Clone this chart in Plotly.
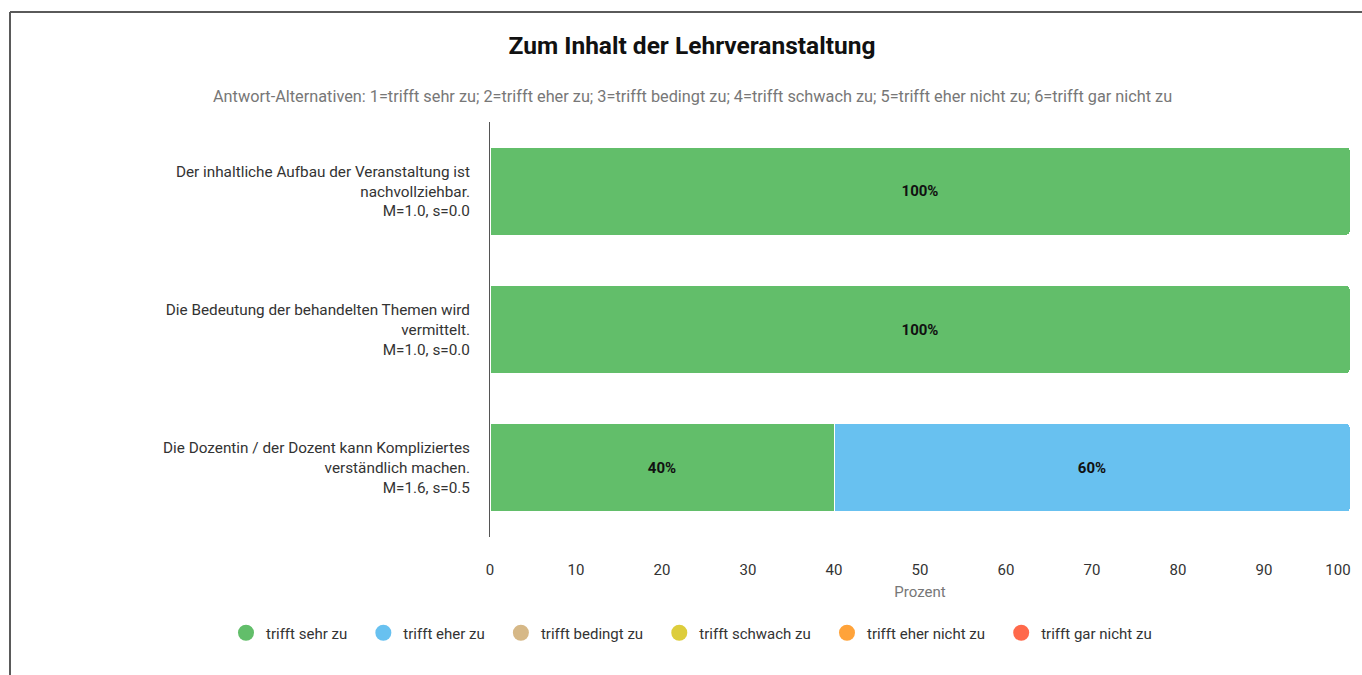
import plotly.graph_objects as go

# Survey items (top to bottom) with mean / standard deviation
questions = [
    "Der inhaltliche Aufbau der Veranstaltung ist<br>nachvollziehbar.<br>M=1.0, s=0.0",
    "Die Bedeutung der behandelten Themen wird<br>vermittelt.<br>M=1.0, s=0.0",
    "Die Dozentin / der Dozent kann Kompliziertes<br>verständlich machen.<br>M=1.6, s=0.5",
]

# Answer categories and their share (percent) per item
categories = [
    "trifft sehr zu",
    "trifft eher zu",
    "trifft bedingt zu",
    "trifft schwach zu",
    "trifft eher nicht zu",
    "trifft gar nicht zu",
]
values_sehr = [100, 100, 40]
values_eher = [0, 0, 60]
values_bedingt = [0, 0, 0]
values_schwach = [0, 0, 0]
values_eher_nicht = [0, 0, 0]
values_gar_nicht = [0, 0, 0]
series = [values_sehr, values_eher, values_bedingt,
          values_schwach, values_eher_nicht, values_gar_nicht]

colors = ["#62be6a", "#68c1f0", "#d6b887", "#ddcd3c", "#ffa33a", "#ff694b"]

x_ticks = [0, 10, 20, 30, 40, 50, 60, 70, 80, 90]
x_end_tick = [100]

W, H = 1362, 675
ML, MR, MT, MB = 490, 12, 122, 138
PW, PH = W - ML - MR, H - MT - MB

fig = go.Figure()

for name, vals, col in zip(categories, series, colors):
    if not any(vals):
        continue
    fig.add_trace(go.Bar(
        y=questions, x=vals, orientation="h", name=name,
        marker=dict(color=col, line=dict(color="white", width=1)),
        text=[f"{v}%" if v else "" for v in vals],
        textposition="inside", insidetextanchor="middle",
        textfont=dict(family="Roboto", size=15, color="#111", weight="bold"),
        showlegend=False, hoverinfo="skip", width=0.635,
    ))

# Legend entries with round markers (on the overlay axis carrying the end tick)
for name, col in zip(categories, colors):
    fig.add_trace(go.Scatter(
        x=[None], y=[None], mode="markers", name=name + "\u00a0" * 3,
        marker=dict(symbol="circle", size=16, color=col),
        xaxis="x2",
    ))

def px_x(px):
    return (px - ML) / PW

def px_y(py):
    return (H - MB - py) / PH

# Outer frame (left and top edges)
frame = dict(type="line", xref="paper", yref="paper",
             line=dict(color="#5a5a5a", width=2), layer="above")
fig.add_shape(x0=px_x(10), x1=px_x(10), y0=px_y(12), y1=px_y(H + 5), **frame)
fig.add_shape(x0=px_x(10), x1=px_x(W + 5), y0=px_y(12), y1=px_y(12), **frame)

fig.add_annotation(
    text="Antwort-Alternativen: 1=trifft sehr zu; 2=trifft eher zu; 3=trifft bedingt zu; "
         "4=trifft schwach zu; 5=trifft eher nicht zu; 6=trifft gar nicht zu",
    xref="paper", yref="paper", x=px_x(692), y=px_y(96),
    xanchor="center", yanchor="middle", showarrow=False,
    font=dict(family="Roboto", size=16.3, color="#777"),
)

axis_common = dict(
    range=[0, 100], showgrid=False, zeroline=False, showline=False,
    ticks="", ticklabelstandoff=22, tickfont=dict(size=15, color="#333"),
    fixedrange=True,
)

fig.update_layout(
    width=W, height=H,
    margin=dict(l=ML, r=MR, t=MT, b=MB, autoexpand=False),
    paper_bgcolor="white", plot_bgcolor="white",
    barmode="stack", barcornerradius=3,
    title=dict(
        text="<b>Zum Inhalt der Lehrveranstaltung</b>",
        xref="container", yref="container",
        x=692 / W, y=1 - 45 / H, xanchor="center", yanchor="middle",
        font=dict(family="Roboto", size=24.5, color="#111"),
    ),
    font=dict(family="Roboto", size=15, color="#333"),
    xaxis=dict(
        tickvals=x_ticks,
        title=dict(text="Prozent", font=dict(size=15, color="#777"), standoff=8),
        **axis_common,
    ),
    # the final label is pulled inwards so it stays on the canvas
    xaxis2=dict(
        overlaying="x", side="bottom", matches="x",
        tickvals=x_end_tick, ticklabelshift=-12,
        **axis_common,
    ),
    yaxis=dict(
        categoryorder="array", categoryarray=questions, autorange="reversed",
        showgrid=False, zeroline=False, showline=True, linecolor="#555",
        linewidth=1, ticks="", ticklabelstandoff=16,
        tickfont=dict(size=15.3, color="#333"),
    ),
    legend=dict(
        orientation="h", traceorder="normal",
        xref="paper", x=px_x(226), xanchor="left",
        yref="paper", y=px_y(633), yanchor="middle",
        font=dict(family="Roboto", size=15, color="#333"),
        itemclick=False, itemdoubleclick=False,
    ),
    showlegend=True,
)

fig.write_html("out.html")
